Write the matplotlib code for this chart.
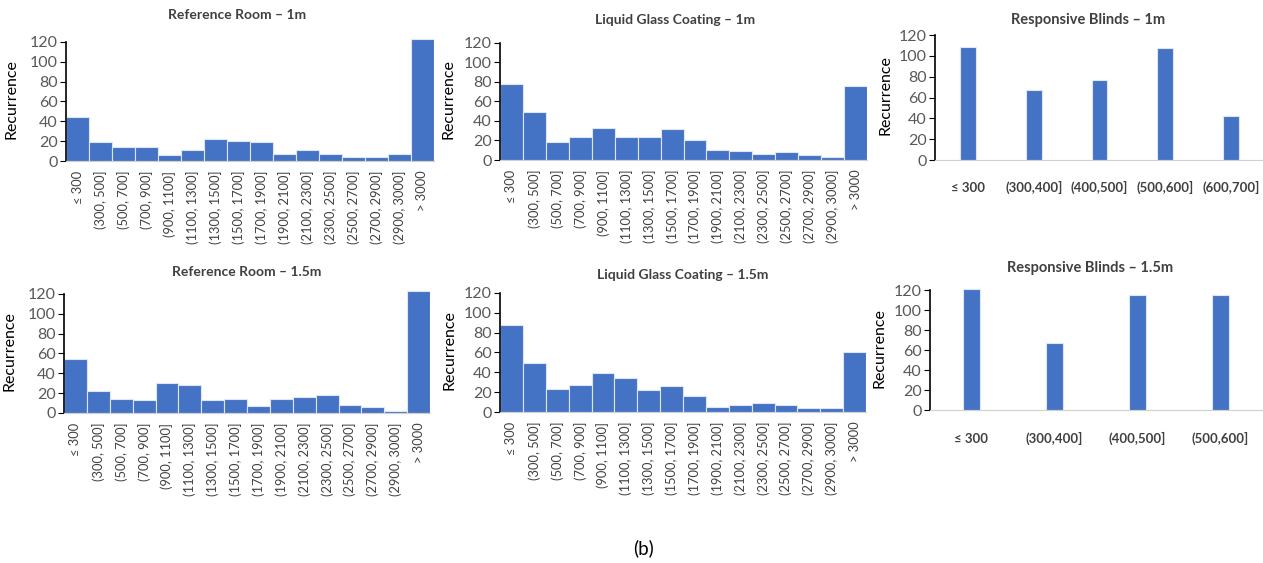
import matplotlib
matplotlib.use('Agg')
import matplotlib.pyplot as plt
import numpy as np

plt.rcParams['font.family'] = ['Lato', 'DejaVu Sans']

# histogram bins (illuminance, lux)
bins = ['≤ 300', '(300, 500]', '(500, 700]', '(700, 900]', '(900, 1100]',
        '(1100, 1300]', '(1300, 1500]', '(1500, 1700]', '(1700, 1900]',
        '(1900, 2100]', '(2100, 2300]', '(2300, 2500]', '(2500, 2700]',
        '(2700, 2900]', '(2900, 3000]', '> 3000']

ref_1m = [44, 19, 14, 14, 6, 11, 22, 20, 19, 7, 11, 7, 4, 4, 7, 123]
lgc_1m = [78, 49, 18, 24, 33, 24, 24, 32, 21, 10, 9, 6, 8, 5, 3, 76]
ref_15m = [54, 22, 14, 13, 30, 28, 13, 14, 7, 14, 16, 18, 8, 6, 2, 123]
lgc_15m = [88, 49, 23, 27, 39, 34, 22, 26, 16, 5, 7, 9, 7, 4, 4, 60]

blinds_bins_1m = ['≤ 300', '(300,400]', '(400,500]', '(500,600]', '(600,700]']
blinds_1m = [109, 67, 77, 108, 42]
blinds_bins_15m = ['≤ 300', '(300,400]', '(400,500]', '(500,600]']
blinds_15m = [121, 67, 115, 115]

W, H = 1263, 563
BLUE = '#4472C4'
GREY = '#595959'

fig = plt.figure(figsize=(W / 100, H / 100), dpi=100)


def px_axes(left, right, top, bottom):
    return fig.add_axes([left / W, 1 - bottom / H, (right - left) / W, (bottom - top) / H])


def style(ax):
    ax.set_ylim(0, 124)
    ax.set_yticks(range(0, 121, 20))
    ax.spines['top'].set_visible(False)
    ax.spines['right'].set_visible(False)
    ax.spines['left'].set_bounds(0, 120)
    ax.spines['left'].set_color('black')
    ax.spines['left'].set_linewidth(1.2)
    ax.spines['bottom'].set_color('#d0d0d0')
    ax.tick_params(axis='y', labelsize=11.5, colors='black', length=4, pad=2)
    ax.tick_params(axis='x', length=0)
    for t in ax.get_yticklabels():
        t.set_color(GREY)


def hist_panel(box, values, title, title_xy, ylab_x):
    ax = px_axes(*box)
    x = np.arange(len(values))
    ax.bar(x, values, width=1.0, color=BLUE, edgecolor='#dfe6f3', linewidth=0.8)
    ax.set_xlim(-0.5, len(values) - 0.5)
    style(ax)
    ax.set_xticks(x)
    ax.set_xticklabels(bins, rotation=90, fontsize=9.3, color='#404040')
    ax.tick_params(axis='x', pad=7)
    ax.set_ylabel('Recurrence', fontsize=11.5)
    ax.yaxis.set_label_coords(ylab_x, 0.5)
    fig.text(title_xy[0] / W, 1 - title_xy[1] / H, title, ha='center', va='center',
             fontsize=10, fontweight='bold', color='#404040')
    return ax


def blinds_panel(box, cats, values, width, title, title_xy, ylab_x, pad):
    ax = px_axes(*box)
    x = np.arange(len(values))
    ax.bar(x, values, width=width, color=BLUE, edgecolor='#dfe6f3', linewidth=0.8)
    ax.set_xlim(-0.5, len(values) - 0.5)
    style(ax)
    ax.set_xticks(x)
    ax.set_xticklabels(cats, fontsize=9.5, fontweight='bold', color='#404040')
    ax.tick_params(axis='x', pad=pad)
    for t in ax.get_xticklabels():
        t.set_va('baseline')
    ax.set_ylabel('Recurrence', fontsize=11.5)
    ax.yaxis.set_label_coords(ylab_x, 0.5)
    fig.text(title_xy[0] / W, 1 - title_xy[1] / H, title, ha='center', va='center',
             fontsize=10.5, fontweight='bold', color='#404040')
    return ax


hist_panel((66, 434, 38, 161), ref_1m, 'Reference Room – 1m', (237, 15), -0.13)
hist_panel((500, 867, 39, 160), lgc_1m, 'Liquid Glass Coating – 1m', (675, 20), -0.12)
blinds_panel((935, 1264, 31, 160), blinds_bins_1m, blinds_1m, 0.24,
             'Responsive Blinds – 1m', (1088, 20), -0.13, 23)

hist_panel((64, 430, 290, 413), ref_15m, 'Reference Room – 1.5m', (247, 272), -0.13)
hist_panel((500, 866, 289, 412), lgc_15m, 'Liquid Glass Coating – 1.5m', (683, 275), -0.12)
blinds_panel((930, 1262, 286, 410), blinds_bins_15m, blinds_15m, 0.21,
             'Responsive Blinds – 1.5m', (1090, 268), -0.13, 24)

fig.text(643 / W, 1 - 548 / H, '(b)', ha='center', va='center', fontsize=13.5)

fig.savefig('out.png', dpi=100)
